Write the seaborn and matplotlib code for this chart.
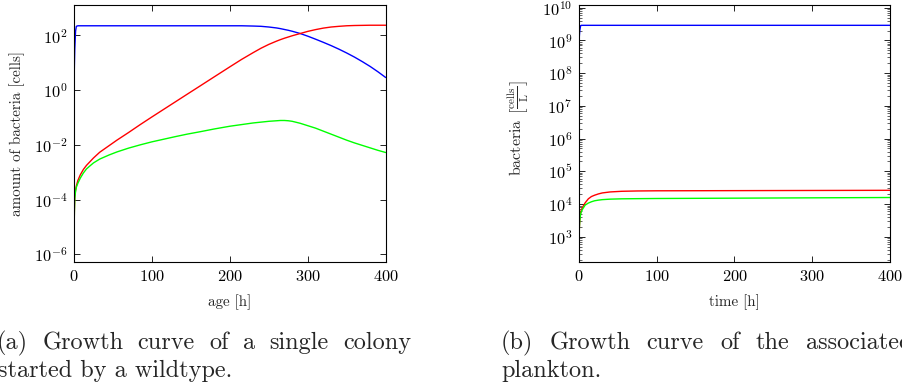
import numpy as np
import pandas as pd
import matplotlib
matplotlib.use("Agg")
import matplotlib.pyplot as plt
import matplotlib.ticker as mticker
import seaborn as sns

# ---------------- data (log10 values) ----------------
# (a) single colony
t_a = [0, 0.5, 1, 2, 3, 5, 8, 12, 16, 20, 25, 33, 45, 55, 70, 85, 100, 115,
       130, 145, 162, 180, 200, 215, 230, 240, 250, 260, 265, 270, 275, 280,
       290, 300, 310, 320, 330, 340, 350, 360, 370, 380, 390, 400]
blue_a = [0.0, 0.9, 1.5, 2.15, 2.33,
          2.35, 2.35, 2.35, 2.35, 2.35, 2.35, 2.35, 2.35, 2.35, 2.35, 2.35,
          2.35, 2.35, 2.35, 2.35, 2.35, 2.35, 2.35, 2.35,
          2.34, 2.33, 2.305, 2.27, 2.245, 2.215, 2.185, 2.15, 2.07, 1.97,
          1.86, 1.745, 1.625, 1.495, 1.355, 1.205, 1.04, 0.865, 0.67, 0.46]
red_a = [-5.49, -4.4, -3.9, -3.65, -3.5, -3.3, -3.1, -2.9, -2.75, -2.63,
         -2.48, -2.27, -2.03, -1.83, -1.55, -1.26, -0.98, -0.705, -0.43,
         -0.155, 0.155, 0.485, 0.85, 1.12, 1.37, 1.53, 1.67, 1.79, 1.845,
         1.895, 1.94, 1.985, 2.065, 2.145, 2.21, 2.265, 2.305, 2.33, 2.35,
         2.36, 2.365, 2.37, 2.37, 2.37]
green_a = [-5.49, -4.45, -3.95, -3.7, -3.55, -3.4, -3.22, -3.03, -2.88, -2.78,
           -2.66, -2.52, -2.37, -2.26, -2.12, -2.0, -1.89, -1.795, -1.70,
           -1.61, -1.52, -1.42, -1.32, -1.26, -1.20, -1.17, -1.14, -1.12,
           -1.11, -1.11, -1.12, -1.14, -1.21, -1.30, -1.39, -1.50, -1.61,
           -1.72, -1.83, -1.93, -2.02, -2.11, -2.20, -2.28]

# (b) plankton
t_b = [0, 0.5, 1, 2, 3, 5, 8, 12, 16, 20, 25, 30, 40, 55, 75, 100, 200, 300, 400]
blue_b = [8.96, 9.15, 9.3, 9.44, 9.46, 9.46, 9.46, 9.46, 9.46, 9.46, 9.46,
          9.46, 9.46, 9.46, 9.46, 9.46, 9.46, 9.46, 9.46]
red_b = [2.9, 3.3, 3.52, 3.72, 3.82, 3.92, 4.04, 4.16, 4.23, 4.27, 4.31, 4.34,
         4.37, 4.39, 4.40, 4.405, 4.41, 4.415, 4.42]
green_b = [2.9, 3.3, 3.5, 3.68, 3.77, 3.86, 3.97, 4.03, 4.07, 4.10, 4.12,
           4.135, 4.15, 4.16, 4.165, 4.17, 4.18, 4.19, 4.20]

xticks = [0, 100, 200, 300, 400]
series_names = ["blue", "red", "green"]
colors = {"blue": "#0000ff", "red": "#ff0000", "green": "#00ff00"}

# ---------------- style ----------------
sns.set_style("ticks")
plt.rcParams["font.family"] = ["cmr10", "DejaVu Serif"]
plt.rcParams["mathtext.fontset"] = "cm"
plt.rcParams["axes.formatter.use_mathtext"] = True
plt.rcParams["axes.unicode_minus"] = False

W, H = 903, 388
fig = plt.figure(figsize=(W / 100, H / 100), dpi=100)

TICK = 11.8
LAB = 10.8


def make_df(t, series):
    rows = []
    for name, vals in zip(series_names, series):
        for tt, v in zip(t, vals):
            rows.append({"t": tt, "y": 10.0 ** v, "s": name})
    return pd.DataFrame(rows)


def style_axes(ax):
    for sp in ax.spines.values():
        sp.set_linewidth(0.8)
        sp.set_color("black")
    ax.tick_params(which="major", direction="in", top=True, right=True,
                   length=4, width=0.6, labelsize=TICK, pad=5, colors="black")
    ax.tick_params(which="minor", direction="in", top=True, right=True,
                   length=2.2, width=0.5)
    ax.set_xlim(0, 400)
    ax.set_xticks(xticks)
    ax.xaxis.set_minor_locator(mticker.NullLocator())


def px_axes(l, t, r, b):
    return [l / W, 1 - b / H, (r - l) / W, (b - t) / H]


# ---- (a) ----
ax1 = fig.add_axes(px_axes(74, 4.7, 385.7, 262))
df_a = make_df(t_a, [blue_a, red_a, green_a])
sns.lineplot(data=df_a, x="t", y="y", hue="s", palette=colors, ax=ax1,
             legend=False, sort=False, estimator=None, linewidth=1.0)
ax1.set_yscale("log")
ax1.set_ylim(10 ** -6.28, 10 ** 3.12)
ax1.set_yticks([1e-6, 1e-4, 1e-2, 1e0, 1e2])
ax1.yaxis.set_major_formatter(mticker.LogFormatterSciNotation())
ax1.yaxis.set_minor_locator(mticker.NullLocator())
style_axes(ax1)
ax1.set_xlabel("age [h]", fontsize=LAB)
ax1.set_ylabel("amount of bacteria [cells]", fontsize=LAB)
ax1.xaxis.set_label_coords(0.5, -0.125)
ax1.yaxis.set_label_coords(-0.157, 0.5)

# ---- (b) ----
ax2 = fig.add_axes(px_axes(579, 4.7, 890, 262))
df_b = make_df(t_b, [blue_b, red_b, green_b])
sns.lineplot(data=df_b, x="t", y="y", hue="s", palette=colors, ax=ax2,
             legend=False, sort=False, estimator=None, linewidth=1.0)
ax2.set_yscale("log")
ax2.set_ylim(10 ** 2.23, 10 ** 10.09)
ax2.set_yticks([10.0 ** k for k in range(3, 11)])
ax2.yaxis.set_major_formatter(mticker.LogFormatterSciNotation())
ax2.yaxis.set_minor_locator(mticker.LogLocator(base=10, subs=np.arange(2, 10), numticks=30))
ax2.yaxis.set_minor_formatter(mticker.NullFormatter())
style_axes(ax2)
ax2.set_xlabel("time [h]", fontsize=LAB)
ax2.set_ylabel(r"bacteria $\left[\frac{\mathrm{cells}}{\mathrm{L}}\right]$", fontsize=11.5)
ax2.xaxis.set_label_coords(0.5, -0.125)
ax2.yaxis.set_label_coords(-0.153, 0.52)

# ---------------- captions ----------------
CAP = 17.5
renderer = fig.canvas.get_renderer()


def justified(words, x0, x1, base_y):
    texts = [fig.text(0, 1 - base_y / H, w, fontsize=CAP, ha="left",
                      va="baseline") for w in words]
    widths = [t.get_window_extent(renderer).width for t in texts]
    gap = (x1 - x0 - sum(widths)) / (len(words) - 1)
    x = x0
    for t, w in zip(texts, widths):
        t.set_x(x / W)
        x += w + gap


def plain(text, x0, base_y):
    fig.text(x0 / W, 1 - base_y / H, text, fontsize=CAP, ha="left", va="baseline")


justified(["(a)", "Growth", "curve", "of", "a", "single", "colony"], -3, 411, 349)
plain("started by a wildtype.", -2, 376.5)
justified(["(b)", "Growth", "curve", "of", "the", "associated"], 501, 912, 349)
plain("plankton.", 501, 376.5)

fig.savefig("out.png", dpi=100)
